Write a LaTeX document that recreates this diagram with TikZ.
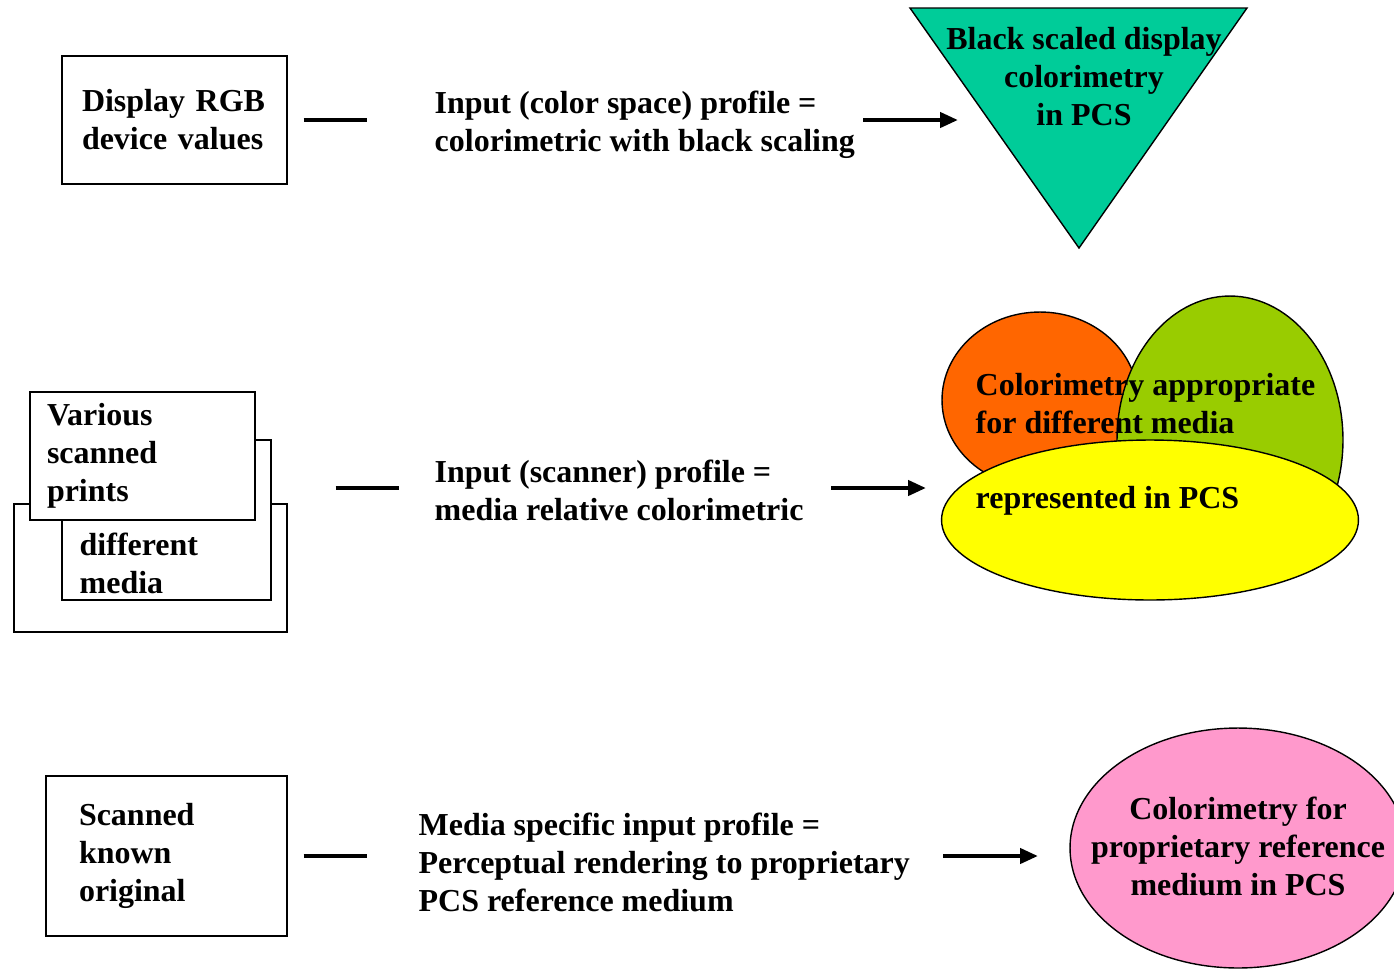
\documentclass[tikz,border=0pt]{standalone}
\usepackage{fontspec}
\setmainfont{Liberation Serif}
\usetikzlibrary{arrows.meta}
\usetikzlibrary{calc}
\definecolor{scaledcolor}{HTML}{00CC99}
\definecolor{orangecolor}{HTML}{FF6600}
\definecolor{greencolor}{HTML}{99CC00}
\definecolor{yellowcolor}{HTML}{FFFF00}
\definecolor{pinkcolor}{HTML}{FF99CC}

\begin{document}
\begin{tikzpicture}[x=0.02cm,y=-0.02cm,thick,
  font=\fontsize{18.2}{21.6}\selectfont\bfseries,
  box/.style={draw=black,fill=white,align=left},
  lbl/.style={inner sep=0pt,align=left,anchor=west},
  bar/.style={black,line width=2.4pt},
  arr/.style={black,line width=2.4pt,-{Triangle[length=0.36cm,width=0.3cm]}}]
  \useasboundingbox (0,0) rectangle (1394,968);
%% top row
  \node[box,inner xsep=0.4cm,text width=3.7cm,minimum height=2.56cm] (rgb) at (174.5,120) {Display RGB\\device values};
  \node[lbl] (prof1) at (434,125) {Input (color space) profile =\\colorimetric with black scaling};
  \filldraw[fill=scaledcolor,draw=black] (910,8) -- (1247,8) -- (1079,248) -- cycle;
  \node[inner sep=0pt,align=center] (scaled) at (1084,77) {Black scaled display\\colorimetry\\in PCS};
%% middle row
  \node[box,minimum width=5.46cm,minimum height=2.56cm] (back) at (150.5,568) {};
  \node[box,minimum width=4.18cm,minimum height=3.2cm] (mid) at (166.5,520) {};
  \node[lbl] (diff) at (79,563) {different\\media};
  \node[box,inner xsep=0.34cm,text width=3.82cm,minimum height=2.56cm] (prints) at (142.5,456) {Various\\scanned\\prints};
  \node[lbl] (prof2) at (434,490) {Input (scanner) profile =\\media relative colorimetric};
  \filldraw[fill=orangecolor,draw=black] (1040,400) ellipse [x radius=1.96cm, y radius=1.76cm];
  \filldraw[fill=greencolor,draw=black] (1230,440) ellipse [x radius=2.26cm, y radius=2.88cm];
  \filldraw[fill=yellowcolor,draw=black] (1150,520) ellipse [x radius=4.17cm, y radius=1.6cm];
  \node[lbl] (media) at (975,404) {Colorimetry appropriate\\for different media};
  \node[lbl] (pcs) at (975,501) {represented in PCS};
%% bottom row
  \node[box,inner xsep=0.66cm,text width=3.5cm,minimum height=3.2cm] (orig) at (166.5,856) {Scanned\\known\\original};
  \node[lbl] (prof3) at (418,862) {Media specific input profile =\\Perceptual rendering to proprietary\\PCS reference medium};
  \filldraw[fill=pinkcolor,draw=black] (1238,848) ellipse [x radius=3.36cm, y radius=2.4cm];
  \node[inner sep=0pt,align=center] (ref) at (1238,846) {Colorimetry for\\proprietary reference\\medium in PCS};
%% dashes and arrows
  \coordinate (from1) at (863,120);
  \coordinate (to1) at (958,120);
  \coordinate (from2) at (831,488);
  \coordinate (to2) at (926,488);
  \coordinate (from3) at (943,856);
  \coordinate (to3) at (1038,856);
  \draw[bar] ([xshift=0.32cm]rgb.east) -- ([xshift=1.58cm]rgb.east);
  \draw[bar] ([xshift=1.28cm]mid.east |- from2) -- ([xshift=2.54cm]mid.east |- from2);
  \draw[bar] ([xshift=0.32cm]orig.east) -- ([xshift=1.58cm]orig.east);
\foreach \n in {1,2,3}
    \draw[arr] (from\n) -- (to\n);
\end{tikzpicture}
\end{document}
